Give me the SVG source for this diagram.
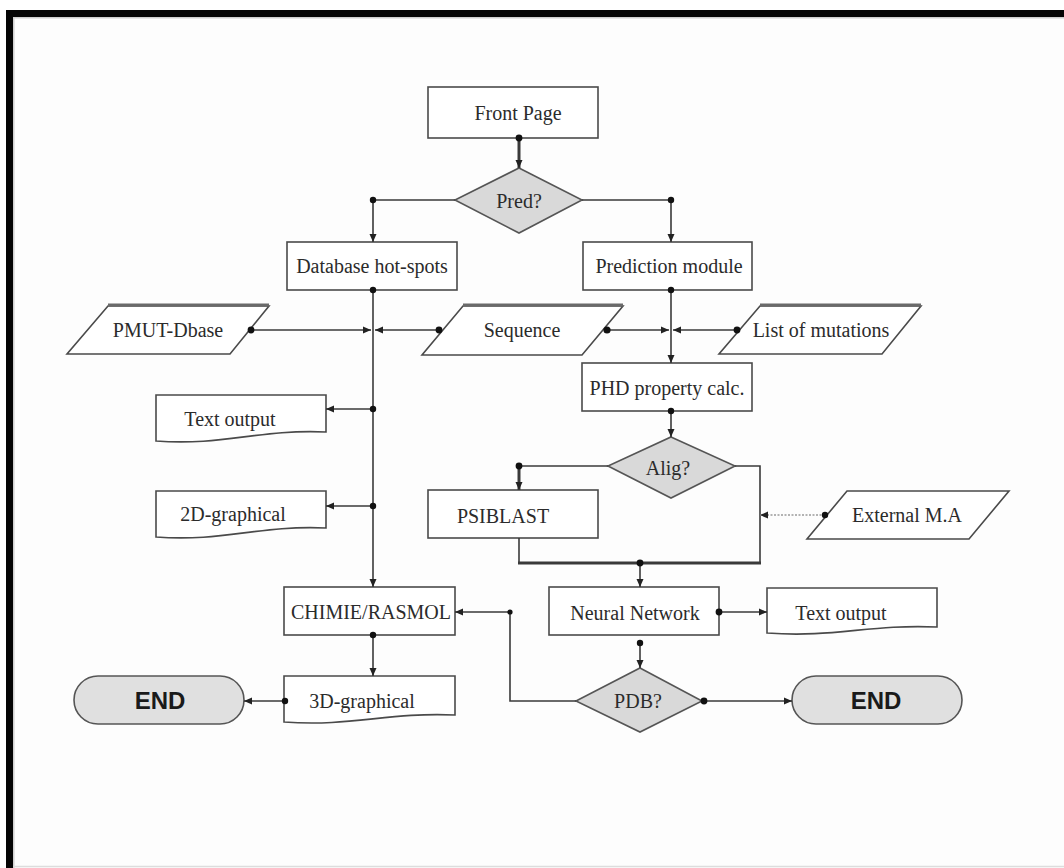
<svg xmlns="http://www.w3.org/2000/svg" width="1064" height="868" viewBox="0 0 1064 868">
<style>
.box{fill:#ffffff;stroke:#4a4a4a;stroke-width:1.6}
.dia{fill:#d9d9d9;stroke:#555;stroke-width:1.6}
.term{fill:#e0e0e0;stroke:#555;stroke-width:1.6}
.t{font-family:"Liberation Serif","Times New Roman",serif;font-size:20px;fill:#2b2b2b;text-anchor:middle}
.e{font-family:"Liberation Sans",Arial,sans-serif;font-size:24px;font-weight:bold;fill:#1a1a1a;text-anchor:middle}
.c{fill:none;stroke:#3a3a3a;stroke-width:1.6}
.ck{fill:none;stroke:#3a3a3a;stroke-width:3}
.cd{fill:none;stroke:#9a9a9a;stroke-width:1.4;stroke-dasharray:2 1.5}
.a{marker-end:url(#arr)}
.dot{fill:#111}
.top{stroke:#6a6a6a;stroke-width:3}
</style>
<defs>
<marker id="arr" markerUnits="userSpaceOnUse" markerWidth="9" markerHeight="8" refX="8" refY="4" orient="auto">
<path d="M0,0.5 L8,4 L0,7.5 z" fill="#222"/>
</marker>
</defs>
<rect x="0" y="0" width="1064" height="868" fill="#ffffff"/>
<rect x="13" y="17" width="1051" height="851" fill="#fdfdfd"/>
<rect x="6" y="10" width="1058" height="7" fill="#050505"/>
<rect x="6" y="10" width="7" height="858" fill="#050505"/>
<line x1="13" y1="17.8" x2="1064" y2="17.8" stroke="#cfcfcf" stroke-width="1.5"/>
<line x1="13.8" y1="17" x2="13.8" y2="868" stroke="#cfcfcf" stroke-width="1.5"/>
<line x1="13" y1="866.5" x2="1064" y2="866.5" stroke="#dddddd" stroke-width="1.5"/>

<g id="front-page"><rect class="box" x="428" y="87" width="170" height="51"/><text class="t" x="518" y="120">Front Page</text></g>
<g id="pred"><polygon class="dia" points="519,168 582,200 519,233 455,200"/><text class="t" x="519" y="208">Pred?</text></g>
<g id="database"><rect class="box" x="287" y="242" width="170" height="48"/><text class="t" x="372" y="273">Database hot-spots</text></g>
<g id="prediction"><rect class="box" x="583" y="242" width="169" height="48"/><text class="t" x="669" y="273">Prediction module</text></g>
<g id="pmut"><polygon class="box" points="108,306 269,306 230,354 67,354"/><line class="top" x1="108" y1="305" x2="269" y2="305"/><text class="t" x="168" y="337">PMUT-Dbase</text></g>
<g id="sequence"><polygon class="box" points="463,306 623,306 582,355 422,355"/><line class="top" x1="463" y1="305" x2="623" y2="305"/><text class="t" x="522" y="337">Sequence</text></g>
<g id="mutations"><polygon class="box" points="760,306 921,306 882,354 719,354"/><line class="top" x1="760" y1="305" x2="921" y2="305"/><text class="t" x="821" y="337">List of mutations</text></g>
<g id="text-output-1"><path class="box" d="M156,395 H326 V432 C258,429 224,446 156,441 Z"/><text class="t" x="230" y="426">Text output</text></g>
<g id="graphical-2d"><path class="box" d="M156,491 H326 V528 C258,525 224,542 156,537 Z"/><text class="t" x="233" y="521">2D-graphical</text></g>
<g id="phd"><rect class="box" x="582" y="363" width="170" height="48"/><text class="t" x="667" y="395">PHD property calc.</text></g>
<g id="alig"><polygon class="dia" points="671,437 735,466 671,498 608,466"/><text class="t" x="668" y="475">Alig?</text></g>
<g id="psiblast"><rect class="box" x="428" y="490" width="170" height="48"/><text class="t" x="503" y="523">PSIBLAST</text></g>
<g id="external"><polygon class="box" points="847,491 1009,491 969,539 807,539"/><text class="t" x="907" y="522">External M.A</text></g>
<g id="chimie"><rect class="box" x="284" y="587" width="171" height="48"/><text class="t" x="371" y="619">CHIMIE/RASMOL</text></g>
<g id="neural"><rect class="box" x="549" y="587" width="170" height="48"/><text class="t" x="635" y="620">Neural Network</text></g>
<g id="text-output-2"><path class="box" d="M767,588 H937 V627 C869,624 835,638 767,633 Z"/><text class="t" x="841" y="620">Text output</text></g>
<g id="graphical-3d"><path class="box" d="M284,676 H455 V715 C387,712 352,727 284,722 Z"/><text class="t" x="362" y="708">3D-graphical</text></g>
<g id="pdb"><polygon class="dia" points="640,668 702,701 640,732 576,701"/><text class="t" x="638" y="708">PDB?</text></g>
<g id="end-left"><rect class="term" x="74" y="676" width="170" height="48" rx="24"/><text class="e" x="160" y="709">END</text></g>
<g id="end-right"><rect class="term" x="792" y="676" width="170" height="48" rx="24"/><text class="e" x="876" y="709">END</text></g>

<g id="connectors">
<line class="ck a" x1="519" y1="138" x2="519" y2="168"/>
<polyline class="c a" points="455,200 373,200 373,242"/>
<polyline class="c a" points="582,200 671,200 671,242"/>
<line class="c a" x1="373" y1="290" x2="373" y2="587"/>
<line class="c a" x1="251" y1="330" x2="371" y2="330"/>
<line class="c a" x1="439" y1="330" x2="375" y2="330"/>
<line class="c a" x1="373" y1="409" x2="326" y2="409"/>
<line class="c a" x1="373" y1="506" x2="326" y2="506"/>
<line class="c a" x1="671" y1="290" x2="671" y2="363"/>
<line class="c a" x1="607" y1="330" x2="669" y2="330"/>
<line class="c a" x1="737" y1="330" x2="673" y2="330"/>
<line class="c a" x1="671" y1="411" x2="671" y2="437"/>
<line class="c" x1="608" y1="466" x2="519" y2="466"/>
<line class="ck a" x1="519" y1="466" x2="519" y2="490"/>
<polyline class="c" points="735,466 760,466 760,563"/>
<polyline class="c" points="519,538 519,563"/>
<line class="ck" x1="518" y1="563" x2="761" y2="563"/>
<line class="cd a" x1="825" y1="515" x2="760" y2="515"/>
<line class="c a" x1="640" y1="563" x2="640" y2="587"/>
<line class="c a" x1="719" y1="612" x2="767" y2="612"/>
<line class="c a" x1="640" y1="643" x2="640" y2="668"/>
<polyline class="c a" points="576,701 510,701 510,612 455,612"/>
<line class="c a" x1="704" y1="701" x2="792" y2="701"/>
<line class="c a" x1="373" y1="635" x2="373" y2="676"/>
<line class="c a" x1="285" y1="701" x2="244" y2="701"/>
<g class="dot">
<circle cx="519" cy="138" r="3.4"/>
<circle cx="373" cy="200" r="3.2"/>
<circle cx="671" cy="200" r="3.2"/>
<circle cx="373" cy="290" r="3.2"/>
<circle cx="671" cy="290" r="3.2"/>
<circle cx="251" cy="330" r="3.4"/>
<circle cx="439" cy="330" r="3.4"/>
<circle cx="607" cy="330" r="3.6"/>
<circle cx="737" cy="330" r="3.4"/>
<circle cx="373" cy="409" r="3.2"/>
<circle cx="373" cy="506" r="3.2"/>
<circle cx="671" cy="411" r="3.2"/>
<circle cx="519" cy="466" r="3.4"/>
<circle cx="640" cy="563" r="3.4"/>
<circle cx="825" cy="515" r="3.2"/>
<circle cx="719" cy="612" r="3.4"/>
<circle cx="640" cy="643" r="3.2"/>
<circle cx="510" cy="612" r="2.6"/>
<circle cx="704" cy="701" r="3.4"/>
<circle cx="373" cy="635" r="3.2"/>
<circle cx="285" cy="701" r="3.2"/>
</g>
</g>
</svg>
